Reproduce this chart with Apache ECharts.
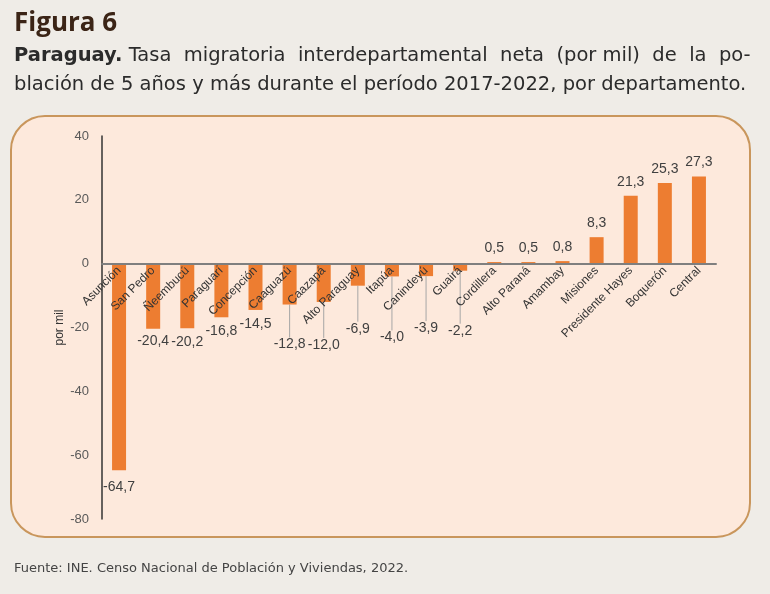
<!DOCTYPE html>
<html>
<head>
<meta charset="utf-8">
<script src="https://cdn.jsdelivr.net/npm/echarts@6/dist/echarts.min.js"></script>
<style>
    html, body { margin: 0; padding: 0; background: #efece7; }
    #chart { width: 770px; height: 594px; }
</style>
</head>
<body>
<div id="chart"></div>
<script>
// departamentos y tasa neta (por mil)
var departamentos = ['Asunción', 'San Pedro', 'Ñeembucú', 'Paraguarí', 'Concepción', 'Caaguazú',
    'Caazapá', 'Alto Paraguay', 'Itapúa', 'Canindeyú', 'Guairá', 'Cordillera', 'Alto Paraná',
    'Amambay', 'Misiones', 'Presidente Hayes', 'Boquerón', 'Central'];
var tasas = [-64.7, -20.4, -20.2, -16.8, -14.5, -12.8, -12.0, -6.9, -4.0, -3.9, -2.2,
    0.5, 0.5, 0.8, 8.3, 21.3, 25.3, 27.3];
var yTicks = [-80, -60, -40, -20, 0, 20, 40];

// etiquetas desplazadas hacia abajo (con línea guía)
var labelShift = {
    'Asunción': 3, 'San Pedro': -2, 'Caaguazú': 26, 'Caazapá': 29,
    'Alto Paraguay': 29, 'Itapúa': 47, 'Canindeyú': 38, 'Guairá': 46
};
var withLine = ['Caaguazú', 'Caazapá', 'Alto Paraguay', 'Itapúa', 'Canindeyú', 'Guairá'];

var gridTop = 136, gridBottom = 75;
var chart = echarts.init(document.getElementById('chart'));

function fmt(v) {
    return v.toFixed(1).replace('.', ',');
}

function genSeriesData() {
    var out = [];
    for (var i = 0; i < tasas.length; i++) {
        var item = { value: tasas[i], label: { position: tasas[i] < 0 ? 'bottom' : 'top' } };
        if (withLine.indexOf(departamentos[i]) >= 0) {
            item.labelLine = { show: true, lineStyle: { color: '#a6a6a6', width: 1 } };
        }
        out.push(item);
    }
    return out;
}

// el eje x va sobre el cero (labels incluidos)
var yMin = yTicks[0], yMax = yTicks[yTicks.length - 1];
var gridH = 594 - gridTop - gridBottom;
var zeroOffset = -gridH * (0 - yMin) / (yMax - yMin);

// primera línea justificada en el original
var subtitulo = '{b|Paraguay.} Tasa  migratoria  interdepartamental  neta  (por mil)  de  la  po-\n' +
    'blación de 5 años y más durante el período 2017-2022, por departamento.';

var option = {
    backgroundColor: '#efece7',
    title: [{
        text: 'Figura 6',
        left: 9,
        top: 6,
        textStyle: { fontFamily: 'Open Sans', fontWeight: 'bold', fontSize: 26, color: '#3b2416' }
    }, {
        text: subtitulo,
        left: 9,
        top: 36,
        textStyle: {
            fontFamily: 'DejaVu Sans', fontWeight: 'normal', fontSize: 19.5, color: '#2b2b2b', lineHeight: 29,
            rich: { b: { fontFamily: 'DejaVu Sans', fontWeight: 'bold', fontSize: 19.5, color: '#2b2b2b', lineHeight: 29 } }
        }
    }, {
        text: 'Fuente: INE. Censo Nacional de Población y Viviendas, 2022.',
        left: 9,
        top: 557,
        textStyle: { fontFamily: 'DejaVu Sans', fontWeight: 'normal', fontSize: 13, color: '#444' }
    }],
    graphic: [{
        type: 'rect',
        z: -10,
        shape: { x: 11, y: 116, width: 739, height: 421, r: 34 },
        style: { fill: '#fde9dc', stroke: '#c9965c', lineWidth: 2 }
    }],
    grid: { left: 102, right: 54, top: gridTop, bottom: gridBottom },
    xAxis: {
        type: 'category',
        data: departamentos,
        offset: zeroOffset,
        z: 5,
        axisLine: { onZero: false, lineStyle: { color: '#7f7f7f', width: 2 } },
        axisTick: { show: false },
        axisLabel: {
            interval: 0,
            rotate: 45,
            margin: 5,
            fontFamily: 'Arial',
            fontSize: 12,
            color: '#333'
        }
    },
    yAxis: {
        type: 'value',
        min: yMin,
        max: yMax,
        interval: 20,
        name: 'por mil',
        nameLocation: 'middle',
        nameGap: 36,
        nameMoveOverlap: false,
        nameTextStyle: { fontFamily: 'Arial', fontSize: 12, color: '#333' },
        axisLine: { show: true, lineStyle: { color: '#333', width: 1.5 } },
        axisTick: { show: false },
        splitLine: { show: false },
        axisLabel: { margin: 13, fontFamily: 'Arial', fontSize: 13, color: '#595959' }
    },
    series: [{
        type: 'bar',
        data: genSeriesData(),
        barWidth: 14,
        itemStyle: { color: '#ed7d31' },
        label: {
            show: true,
            distance: 7,
            fontFamily: 'Arial',
            fontSize: 14,
            color: '#404040',
            formatter: function (p) { return fmt(p.value); }
        },
        labelLayout: function (p) {
            var dy = labelShift[departamentos[p.dataIndex]] || 0;
            return { dy: dy };
        }
    }]
};

chart.setOption(option);
</script>
</body>
</html>
